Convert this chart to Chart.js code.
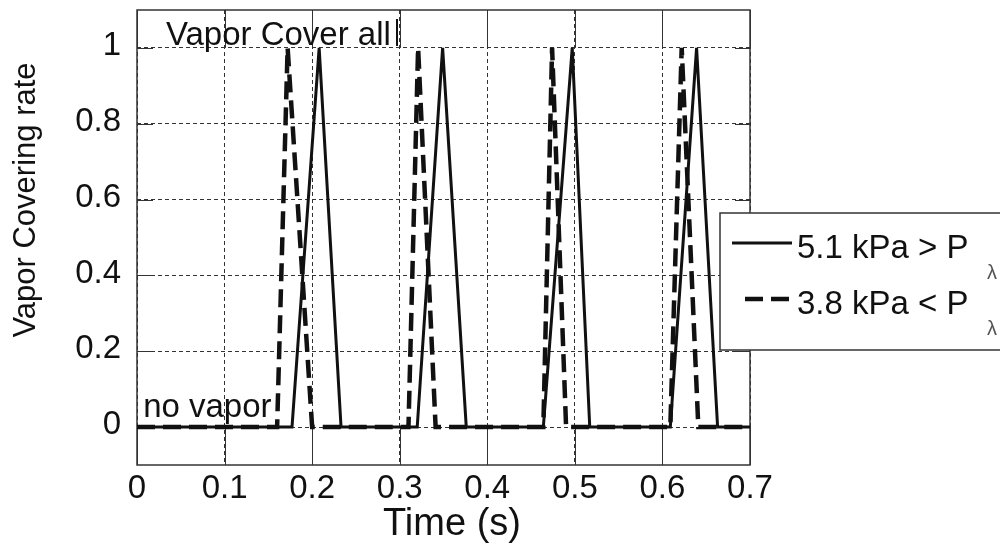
<!DOCTYPE html>
<html>
<head>
<meta charset="utf-8">
<script src="https://cdn.jsdelivr.net/npm/chart.js@4/dist/chart.umd.min.js"></script>
<style>
  html, body { margin: 0; padding: 0; background: #fff; }
  #wrap { width: 1000px; height: 544px; }
</style>
</head>
<body>
<div id="wrap"><canvas id="chartVapor"></canvas></div>
<script>
/* Vapor covering rate vs time, two pressure cases */

var xTicks = [0, 0.1, 0.2, 0.3, 0.4, 0.5, 0.6, 0.7];
var yTicks = [0, 0.2, 0.4, 0.6, 0.8, 1];

/* 5.1 kPa > P_lambda (solid) */
var solidTime = [0, 0.177, 0.208, 0.233, 0.320, 0.349, 0.376, 0.464, 0.497, 0.517, 0.609, 0.639, 0.663, 0.7];
var solidRate = [0, 0, 1, 0, 0, 1, 0, 0, 1, 0, 0, 1, 0, 0];

/* 3.8 kPa < P_lambda (dashed) */
var dashTime = [0, 0.160, 0.172, 0.200, 0.310, 0.321, 0.341, 0.464, 0.474, 0.490, 0.609, 0.622, 0.641, 0.7];
var dashRate = [0, 0, 1, 0, 0, 1, 0, 0, 1, 0, 0, 1, 0, 0];

var legendLabels = ['5.1 kPa > P', '3.8 kPa < P'];
var annotations = [
  { text: 'Vapor Cover all', t: 0.033, v: 1.008 },
  { text: 'no vapor', t: 0.007, v: 0.027 }
];

function pts(ts, vs) {
  return ts.map(function (t, i) { return { x: t, y: vs[i] }; });
}

var FONT = '"Liberation Sans", Arial, sans-serif';
var INK = '#111';

(function () {
  /* solid tick stubs + frame under the data; labels, legend on top */
  var framePlugin = {
    id: 'framePlugin',
    beforeDatasetsDraw: function (chart) {
      var ctx = chart.ctx, a = chart.chartArea;
      var xs = chart.scales.x, ys = chart.scales.y;
      var y1 = ys.getPixelForValue(1), y0 = ys.getPixelForValue(0);
      ctx.save();
      ctx.strokeStyle = '#333';
      ctx.lineWidth = 1;
      ctx.beginPath();
      xTicks.forEach(function (t) {
        var px = Math.round(xs.getPixelForValue(t)) + 0.5;
        ctx.moveTo(px, a.top); ctx.lineTo(px, y1);
        ctx.moveTo(px, y0); ctx.lineTo(px, a.bottom);
      });
      yTicks.forEach(function (v) {
        var py = Math.round(ys.getPixelForValue(v)) + 0.5;
        ctx.moveTo(a.left, py); ctx.lineTo(a.left + 16, py);
        ctx.moveTo(a.right - 15, py); ctx.lineTo(a.right, py);
      });
      ctx.stroke();
      ctx.lineWidth = 1.5;
      ctx.strokeRect(a.left, a.top, a.right - a.left, a.bottom - a.top);
      ctx.restore();
    },
    afterDraw: function (chart) {
      var ctx = chart.ctx;
      var xs = chart.scales.x, ys = chart.scales.y;
      ctx.save();
      ctx.fillStyle = INK;
      ctx.textBaseline = 'alphabetic';

      /* axis titles */
      ctx.font = '38px ' + FONT;
      ctx.textAlign = 'center';
      ctx.fillText('Time (s)', 452, 535);
      ctx.save();
      ctx.translate(35, 200);
      ctx.rotate(-Math.PI / 2);
      ctx.font = '31px ' + FONT;
      ctx.fillText('Vapor Covering rate', 0, 0);
      ctx.restore();

      ctx.font = '33px ' + FONT;
      ctx.textAlign = 'left';
      annotations.forEach(function (an) {
        ctx.fillText(an.text, xs.getPixelForValue(an.t), ys.getPixelForValue(an.v));
      });
      /* stray bar after the top label */
      ctx.fillRect(396, 19, 2, 27);

      /* legend box, runs off the right edge */
      var lx = 720, ly = 213, lh = 137;
      ctx.fillStyle = '#fff';
      ctx.fillRect(lx, ly, 300, lh);
      ctx.strokeStyle = '#333';
      ctx.lineWidth = 1.5;
      ctx.strokeRect(lx, ly, 300, lh);
      var rows = [
        { y: 243, x0: 732, ds: chart.data.datasets[0] },
        { y: 299, x0: 745, ds: chart.data.datasets[1] }
      ];
      rows.forEach(function (r, i) {
        ctx.strokeStyle = INK;
        ctx.lineWidth = r.ds.borderWidth;
        ctx.setLineDash(r.ds.borderDash || []);
        ctx.beginPath();
        ctx.moveTo(r.x0, r.y);
        ctx.lineTo(792, r.y);
        ctx.stroke();
        ctx.setLineDash([]);
        ctx.fillStyle = INK;
        ctx.font = '33px ' + FONT;
        ctx.fillText(legendLabels[i], 797, r.y + 15);
        ctx.fillStyle = '#555';
        ctx.font = '20px ' + FONT;
        ctx.fillText('\u03bb', 987, r.y + 36);
      });
      ctx.restore();
    }
  };

  new Chart(document.getElementById('chartVapor'), {
    type: 'line',
    data: {
      datasets: [
        { label: legendLabels[0], data: pts(solidTime, solidRate), borderColor: INK, borderWidth: 3, pointRadius: 0, tension: 0, fill: false },
        { label: legendLabels[1], data: pts(dashTime, dashRate), borderColor: INK, borderWidth: 4.5, borderDash: [18, 8], pointRadius: 0, tension: 0, fill: false }
      ]
    },
    options: {
      responsive: true,
      maintainAspectRatio: false,
      animation: false,
      layout: { padding: { top: 10, right: 250, left: 0, bottom: 0 } },
      plugins: { legend: { display: false }, tooltip: { enabled: false } },
      scales: {
        x: {
          type: 'linear', min: 0, max: 0.7,
          afterBuildTicks: function (s) { s.ticks = xTicks.map(function (v) { return { value: v }; }); },
          afterFit: function (s) { s.height = 79; s.paddingLeft = 0; s.paddingRight = 0; },
          grid: { color: '#333', lineWidth: 1, drawTicks: false },
          border: { display: false, dash: [4, 3] },
          ticks: { color: INK, font: { family: FONT, size: 33 }, padding: 4, maxRotation: 0,
            callback: function (v) { return String(+v.toFixed(1)); } }
        },
        y: {
          min: -0.1, max: 1.1,
          afterBuildTicks: function (s) { s.ticks = yTicks.map(function (v) { return { value: v }; }); },
          afterFit: function (s) { s.width = 137; s.paddingTop = 0; s.paddingBottom = 0; },
          grid: { color: '#333', lineWidth: 1, drawTicks: false },
          border: { display: false, dash: [4, 3] },
          ticks: { color: INK, font: { family: FONT, size: 33 }, padding: 16, labelOffset: -2,
            callback: function (v) { return String(+v.toFixed(1)); } }
        }
      }
    },
    plugins: [framePlugin]
  });
})();
</script>
</body>
</html>
